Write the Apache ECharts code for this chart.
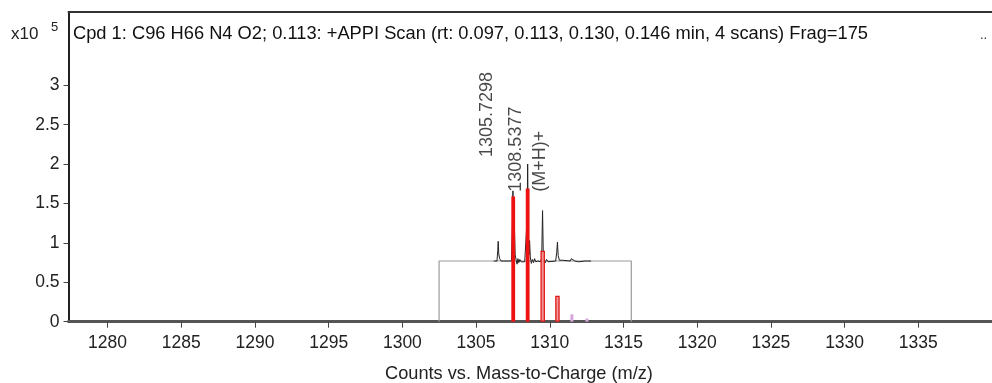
<!DOCTYPE html>
<html>
<head>
<meta charset="utf-8">
<script src="https://cdn.jsdelivr.net/npm/echarts@6/dist/echarts.min.js"></script>
<style>
html,body{margin:0;padding:0;background:#fff;overflow:hidden;}
#c{width:992px;height:383px;}
</style>
</head>
<body>
<div id="c"></div>
<script>
// ---- data (x10^5 counts vs m/z) ----
const xTickValues = [1280, 1285, 1290, 1295, 1300, 1305, 1310, 1315, 1320, 1325, 1330, 1335, 1340];
const xTickLabels = [1280, 1285, 1290, 1295, 1300, 1305, 1310, 1315, 1320, 1325, 1330, 1335];
const yTickValues = [0, 0.5, 1, 1.5, 2, 2.5, 3];

// predicted isotope pattern
const solidBarX = [1307.52, 1308.50];
const solidBarY = [1.59, 1.69];
const hollowBarX = [1309.52, 1310.52];
const hollowBarY = [0.90, 0.33];
const pinkBarX = [1311.50, 1312.52];
const pinkBarY = [0.094, 0.04];

// gray box of the scan window
const boxX = [1302.49, 1302.49, 1315.53, 1315.53];
const boxY = [0, 0.77, 0.77, 0];

// measured profile spectrum
const specX = [1306.20,1306.42,1306.47,1306.50,1306.54,1306.60,1306.70,1307.40,1307.46,1307.50,1307.54,1307.58,1307.61,1307.65,1307.72,1307.78,1307.84,1307.90,1307.97,1308.05,1308.15,1308.30,1308.42,1308.46,1308.50,1308.55,1308.60,1308.63,1308.68,1308.75,1308.82,1308.90,1308.97,1309.05,1309.20,1309.35,1309.45,1309.51,1309.56,1309.62,1309.70,1309.78,1309.88,1310.00,1310.40,1310.47,1310.52,1310.57,1310.65,1310.75,1310.85,1310.95,1311.40,1311.46,1311.50,1311.56,1311.70,1311.80,1311.95,1312.40,1312.50,1312.56,1312.80];
const specY = [0.77,0.77,0.90,1.02,0.86,0.80,0.77,0.77,1.20,1.66,1.10,1.00,1.15,0.85,0.78,0.73,0.80,0.75,0.79,0.76,0.77,0.76,0.77,1.30,2.00,1.00,0.85,1.03,0.82,0.74,0.79,0.75,0.80,0.76,0.77,0.76,0.80,1.41,0.85,0.78,0.75,0.79,0.76,0.77,0.77,0.88,1.01,0.84,0.78,0.77,0.78,0.76,0.77,0.80,0.82,0.79,0.77,0.78,0.76,0.77,0.79,0.77,0.77];

// peak annotations
const labelX = [1305.77, 1307.71, 1309.33];
const labelY = [2.09, 1.65, 1.65];
const labelText = ['1305.7298', '1308.5377', '(M+H)+'];

const titleText = 'Cpd 1: C96 H66 N4 O2; 0.113: +APPI Scan (rt: 0.097, 0.113, 0.130, 0.146 min, 4 scans) Frag=175';
const xAxisTitle = 'Counts vs. Mass-to-Charge (m/z)';

const FONT = '"Liberation Sans", Arial, sans-serif';
const xMin = 1277.35, xMax = 1340.0, yMax = 3.93;

const zip = (a, b) => a.map((v, i) => [v, b[i]]);

const hiddenX = () => ({
  type: 'value', min: xMin, max: xMax, gridIndex: 0, show: false,
  axisLine: {show: false, onZero: false}, splitLine: {show: false}
});

const chart = echarts.init(document.getElementById('c'), null, {renderer: 'canvas'});
chart.setOption({
  animation: false,
  backgroundColor: '#ffffff',
  grid: {left: 68.5, right: 0, top: 12, bottom: 61.3, containLabel: false},
  xAxis: [
    {
      type: 'value', min: xMin, max: xMax,
      axisLine: {show: true, onZero: false, lineStyle: {color: '#555', width: 3}},
      axisTick: {show: true, length: 6, lineStyle: {color: '#444', width: 1}, customValues: xTickValues},
      axisLabel: {fontFamily: FONT, fontSize: 17.5, color: '#222', margin: 12, customValues: xTickLabels,
                  formatter: (v) => String(v)},
      splitLine: {show: false}
    },
    {
      type: 'value', min: xMin, max: xMax, position: 'top',
      axisLine: {show: true, onZero: false, lineStyle: {color: '#333', width: 2}},
      axisTick: {show: false}, axisLabel: {show: false}, splitLine: {show: false}
    },
    hiddenX(),
    hiddenX()
  ],
  yAxis: {
    type: 'value', min: 0, max: yMax,
    axisLine: {show: true, onZero: false, lineStyle: {color: '#222', width: 2}},
    axisTick: {show: true, length: 5, lineStyle: {color: '#444', width: 1}, customValues: yTickValues},
    axisLabel: {fontFamily: FONT, fontSize: 17.5, color: '#222', margin: 9, customValues: yTickValues},
    splitLine: {show: false}
  },
  graphic: [
    {type: 'text', left: 11, top: 26, style: {text: 'x10', font: '17px ' + FONT, fill: '#222'}},
    {type: 'text', left: 51, top: 21, style: {text: '5', font: '13px ' + FONT, fill: '#222'}},
    {type: 'text', left: 73, top: 25, style: {text: titleText, font: '18.3px ' + FONT, fill: '#111'}},
    {type: 'text', left: 980, top: 29, style: {text: '..', font: '13px ' + FONT, fill: '#333'}},
    {type: 'text', x: 519, y: 374, style: {text: xAxisTitle, font: '18.2px ' + FONT, fill: '#222',
      textAlign: 'center', textVerticalAlign: 'middle'}}
  ],
  series: [
    {
      type: 'line', xAxisIndex: 0, data: zip(boxX, boxY), symbol: 'none',
      lineStyle: {color: '#9a9a9a', width: 1.2}, z: 2
    },
    {
      type: 'line', xAxisIndex: 0, data: zip(specX, specY), symbol: 'none',
      lineStyle: {color: '#222', width: 1}, z: 3
    },
    {
      type: 'bar', xAxisIndex: 0, data: zip(solidBarX, solidBarY), barWidth: 3.8,
      itemStyle: {color: '#ee1111'}, z: 4
    },
    {
      type: 'bar', xAxisIndex: 2, data: zip(hollowBarX, hollowBarY), barWidth: 4.5,
      itemStyle: {color: '#f29a9a', borderColor: '#e01818', borderWidth: 1.3}, z: 4
    },
    {
      type: 'bar', xAxisIndex: 3, data: zip(pinkBarX, pinkBarY), barWidth: 3,
      itemStyle: {color: '#d6a6dc'}, z: 4
    },
    {
      type: 'scatter', xAxisIndex: 0, data: zip(labelX, labelY), symbolSize: 0,
      silent: true, z: 6,
      label: {
        show: true, position: 'inside', rotate: 90, align: 'left', verticalAlign: 'middle',
        fontFamily: FONT, fontSize: 18, color: '#1a1a1a',
        formatter: (p) => labelText[p.dataIndex]
      }
    }
  ]
});
</script>
</body>
</html>
